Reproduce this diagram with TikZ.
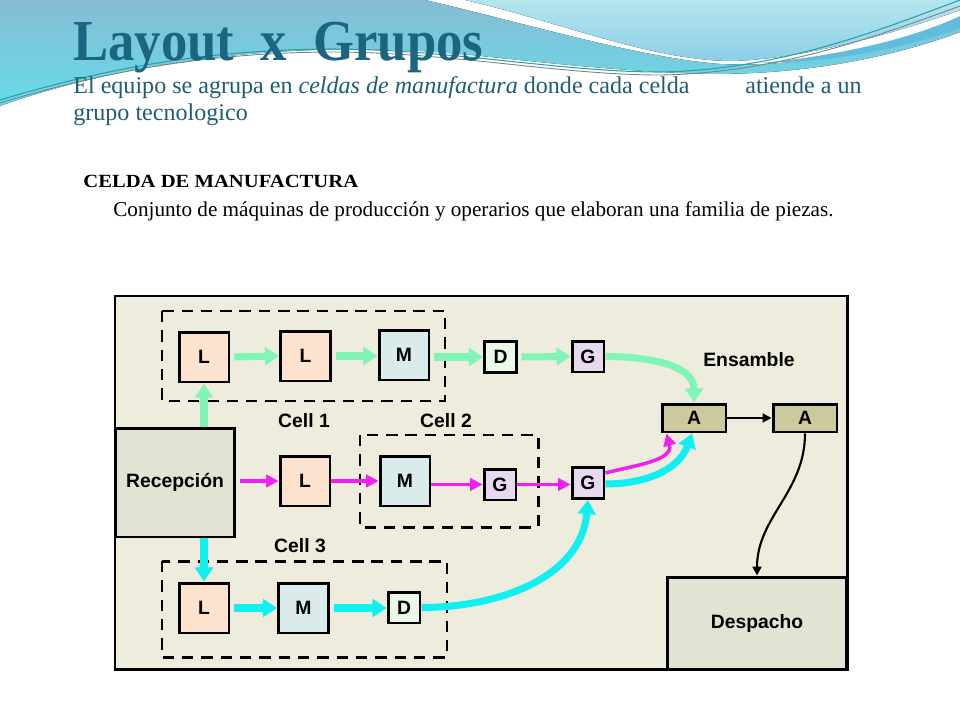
\documentclass[tikz,border=0pt]{standalone}
\usepackage{graphicx}
\usepackage{fontspec}
\setmainfont{Liberation Serif}
\newfontfamily\arialfont{Liberation Sans}
\usetikzlibrary{arrows.meta,calc}
\definecolor{bgbox}{HTML}{EDECDD}
\definecolor{recbox}{HTML}{E3E3D3}
\definecolor{peach}{HTML}{FDE3CE}
\definecolor{mblue}{HTML}{DAEBEC}
\definecolor{dgreen}{HTML}{EBF8E8}
\definecolor{glav}{HTML}{E8DAEE}
\definecolor{khaki}{HTML}{CCC99E}
\definecolor{agreen}{HTML}{80F5B5}
\definecolor{amag}{HTML}{F020F0}
\definecolor{acyan}{HTML}{10F0F0}
\definecolor{titlecol}{HTML}{1B6580}
\definecolor{subcol}{HTML}{1E5E75}
\definecolor{wblue}{HTML}{86BDD5}
\definecolor{wcyan}{HTML}{66DBE8}
\definecolor{wlight}{HTML}{B3E5EC}
\definecolor{wlight2}{HTML}{8DCFE9}
\definecolor{wdark}{HTML}{62BDDC}
\definecolor{wline}{HTML}{2A9FA8}
\tikzset{
  mach/.style={draw=black,line width=1.7pt,inner sep=0pt,
    font=\arialfont\bfseries\fontsize{11}{13}\selectfont},
  bigbox/.style={mach,minimum width=1cm,minimum height=1cm},
  smallbox/.style={mach,minimum width=0.64cm,minimum height=0.62cm},
  abox/.style={mach,fill=khaki,minimum width=1.28cm,minimum height=0.56cm},
  area/.style={mach,fill=recbox},
  lab/.style={inner sep=0pt,font=\arialfont\bfseries\fontsize{11}{13}\selectfont},
  cellbox/.style={draw=black,line width=1.7pt,dash pattern=on 6.5pt off 4.5pt},
  garrow/.style={draw=agreen,line width=4pt,-{Triangle[length=8pt,width=10pt]}},
  carrow/.style={draw=acyan,line width=4pt,-{Triangle[length=8pt,width=10pt]}},
  marrow/.style={draw=amag,line width=2pt,-{Triangle[length=7pt,width=7pt]}},
  karrow/.style={draw=black,line width=1.2pt,-{Triangle[length=5pt,width=5pt]}},
  txt/.style={inner sep=0pt,anchor=base west}
}
\begin{document}
\begin{tikzpicture}[x=0.02cm,y=-0.02cm]
\useasboundingbox (0,0) rectangle (960,720);
% background waves
\fill[top color=wblue,bottom color=wcyan] (0,0) -- (425,0)
  .. controls (520,22) and (640,58) .. (720,64)
  .. controls (800,68) and (900,48) .. (960,22) -- (960,32)
  .. controls (880,62) and (780,78) .. (680,73)
  .. controls (560,67) and (500,56) .. (420,51)
  .. controls (250,42) and (100,70) .. (0,106) -- cycle;
\fill[top color=wlight,bottom color=wlight2] (465,0) -- (960,0) -- (960,10)
  .. controls (900,32) and (800,60) .. (730,61)
  .. controls (650,60) and (560,22) .. (465,0) -- cycle;
\fill[wdark] (760,63) .. controls (850,55) and (920,35) .. (960,16) -- (960,28)
  .. controls (900,50) and (830,62) .. (760,63) -- cycle;
\draw[wline,line width=0.6pt] (0,100) .. controls (100,70) and (200,50) .. (330,49)
  .. controls (450,49) and (560,72) .. (660,72)
  .. controls (780,70) and (880,30) .. (960,0);
\draw[gray,line width=0.5pt] (0,103) .. controls (100,73) and (200,53) .. (330,52)
  .. controls (450,52) and (560,75) .. (660,75)
  .. controls (780,73) and (880,35) .. (960,6);
% texts
\node[txt,text=titlecol,font=\bfseries\fontsize{30}{35}\selectfont] (title) at (73,60)
  {\scalebox{1}[1.1]{Layout\ \ x\ \ Grupos}};
\node[txt,text=subcol,font=\fontsize{13.7}{16}\selectfont] (sub1) at (73,93)
  {El equipo se agrupa en \textit{celdas de manufactura} donde cada celda};
\node[txt,text=subcol,font=\fontsize{13.7}{16}\selectfont] (sub2) at (745,93)
  {atiende a un};
\node[txt,text=subcol,font=\fontsize{13.7}{16}\selectfont] (sub3) at (73,120)
  {grupo tecnologico};
\node[txt,font=\bfseries\fontsize{11.75}{14}\selectfont] (celda) at (83,187)
  {\scalebox{1}[0.9]{CELDA DE MANUFACTURA}};
\node[txt,font=\fontsize{12.05}{14}\selectfont] (conj) at (113,216)
  {Conjunto de máquinas de producción y operarios que elaboran una familia de piezas.};
% diagram frame
\draw[line width=1.7pt,fill=bgbox] (115,296) rectangle (847,669);
\draw[cellbox] (162,311) rectangle (445,401);
\draw[cellbox] (360,435) rectangle (538,527);
\draw[cellbox] (162,561) rectangle (447,657);
% nodes
\node[area,minimum width=2.4cm,minimum height=2.18cm] (rec) at (175,482.5) {Recepción};
\node[area,minimum width=3.6cm,minimum height=1.84cm] (desp) at (757,623) {Despacho};
\node[bigbox,fill=peach] (l1) at (204,357) {L};
\node[bigbox,fill=peach] (l2) at (305.5,356) {L};
\node[bigbox,fill=mblue] (m1) at (404,355) {M};
\node[smallbox,fill=dgreen] (d1) at (500.5,357) {D};
\node[smallbox,fill=glav] (g1) at (588,356.5) {G};
\node[abox] (a1) at (694,418) {A};
\node[abox] (a2) at (805,418) {A};
\node[bigbox,fill=peach] (l4) at (305,481) {L};
\node[bigbox,fill=mblue] (m2) at (405,481) {M};
\node[smallbox,fill=glav] (g2) at (500,484.5) {G};
\node[smallbox,fill=glav] (g3) at (588,483) {G};
\node[bigbox,fill=peach] (l3) at (204,608) {L};
\node[bigbox,fill=mblue] (m3) at (303.5,608) {M};
\node[smallbox,fill=dgreen] (d3) at (404,607.5) {D};
\node[lab] (ens) at (749,360) {Ensamble};
\node[lab] (c1) at (304,421) {Cell 1};
\node[lab] (c2) at (446,421) {Cell 2};
\node[lab] (c3) at (300,546) {Cell 3};
% green flow
\draw[garrow] (rec.north -| l1) -- (l1.south);
\draw[garrow,shorten <=2pt] (l1.east) -- (l2.west);
\draw[garrow,shorten <=2pt] (l2.east) -- (l2.east -| m1.west);
\draw[garrow,shorten <=2pt] (m1.east |- d1) -- (d1.west);
\draw[garrow,shorten <=2pt] (d1.east) -- (g1.west);
\draw[garrow] (g1.east) to[out=0,in=90] (a1.north);
% magenta flow
\draw[marrow,shorten <=2pt] (rec.east |- l4) -- (l4.west);
\draw[marrow] (l4.east) -- (m2.west);
\draw[marrow] (m2.east |- g2) -- (g2.west);
\draw[marrow] (g2.east) -- (g3.west |- g2);
\draw[marrow] ($(g3.east)+(0,-10)$) to[out=15,in=-75] ($(a1.south west)+(6,0)$);
% cyan flow
\draw[carrow] (rec.south -| l3) -- (l3.north);
\draw[carrow,shorten <=2pt] (l3.east) -- (m3.west);
\draw[carrow,shorten <=2pt] (m3.east) -- (d3.west |- m3);
\draw[carrow] (d3.east) to[out=0,in=-95] (g3.south);
\draw[carrow] ($(g3.east)+(0,1)$) to[out=0,in=-110] ($(a1.south)+(-2,0)$);
% black flow
\draw[karrow] (a1.east) -- (a2.west);
\draw[karrow] (a2.south) to[out=-90,in=90] (desp.north);
\end{tikzpicture}
\end{document}
